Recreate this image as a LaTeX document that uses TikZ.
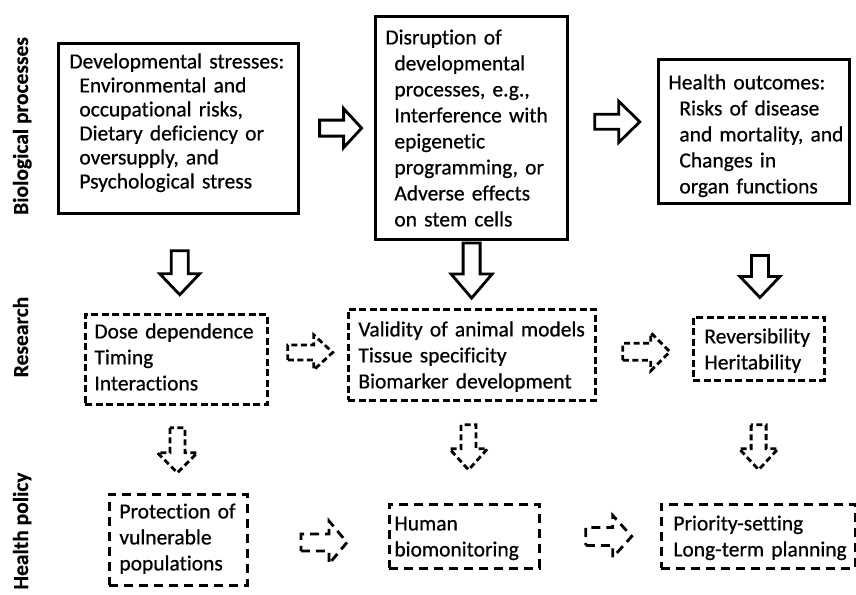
\documentclass[tikz,border=0pt]{standalone}
\usepackage{fontspec}
\setmainfont{Carlito}[Ligatures=NoCommon, FakeBold=0.6, BoldFont=Carlito Bold, BoldFeatures={FakeBold=0.3}]
\usetikzlibrary{calc}
\newcommand\indA{\hspace*{10pt}}
\newcommand\indB{\hspace*{9pt}}
\newcommand\indC{\hspace*{11pt}}
\tikzset{
  basebox/.style={draw, rectangle, line width=2.8pt, line join=miter,
    anchor=north west, inner ysep=0pt, align=left},
  solidbox/.style={basebox},
  resbox/.style={basebox, dash pattern=on 7pt off 3.5pt},
  polbox/.style={basebox, dash pattern=on 9pt off 6pt},
  sidelabel/.style={rotate=90, anchor=base, inner sep=0pt,
    font=\bfseries\fontsize{21.5}{26}\selectfont},
  solidarrow/.style={},
  resarrow/.style={dash pattern=on 6pt off 3.5pt},
  polarrow/.style={dash pattern=on 9pt off 6pt},
  pics/barrow/.style n args={4}{code={
    \draw[line width=2.8pt, line join=miter, pic actions]
      ({-#1/2},{#2/2}) -- ({#1/2-#4},{#2/2}) -- ({#1/2-#4},{#3/2})
      -- ({#1/2},0) -- ({#1/2-#4},{-#3/2}) -- ({#1/2-#4},{-#2/2})
      -- ({-#1/2},{-#2/2}) -- cycle;
  }}
}
\begin{document}
\begin{tikzpicture}[x=1pt, y=-1pt]
\useasboundingbox (0,0) rectangle (856,594);

% side labels
\node[sidelabel] (s1) at (28,126) {Biological processes};
\node[sidelabel] (s2) at (28,337) {Research};
\node[sidelabel] (s3) at (28,531) {Health policy};

% row 1: biological processes
\node[solidbox, font=\fontsize{21.5}{24}\selectfont, inner xsep=11pt, text width=218pt,
      text height=25pt, text depth=145pt] (b1) at (57,42)
  {\begin{tabular}[t]{@{}l@{}}Developmental stresses:\\ \indA Environmental and\\ \indA occupational risks,\\ \indA Dietary deficiency or\\ \indA oversupply, and\\ \indA Psychological stress\end{tabular}};
\node[solidbox, font=\fontsize{21.5}{26}\selectfont, inner xsep=10pt, text width=172pt,
      text height=28pt, text depth=195pt] (b2) at (374,15)
  {\begin{tabular}[t]{@{}l@{}}Disruption of\\ \indB developmental\\ \indB processes, e.g.,\\ \indB Interference with\\ \indB epigenetic\\ \indB programming, or\\ \indB Adverse effects\\ \indB on stem cells\end{tabular}};
\node[solidbox, font=\fontsize{21.5}{26}\selectfont, inner xsep=10pt, text width=171pt,
      text height=30pt, text depth=114pt] (b3) at (657,58)
  {\begin{tabular}[t]{@{}l@{}}Health outcomes:\\ \indC Risks of disease\\ \indC and mortality, and\\ \indC Changes in\\ \indC organ functions\end{tabular}};

% row 2: research
\node[resbox, font=\fontsize{21.5}{26}\selectfont, inner xsep=9pt, text width=164pt,
      text height=24pt, text depth=66pt] (b4) at (84,313)
  {\begin{tabular}[t]{@{}l@{}}Dose dependence\\ Timing\\ Interactions\end{tabular}};
\node[resbox, font=\fontsize{21.5}{26}\selectfont, inner xsep=10pt, text width=227pt,
      text height=27pt, text depth=64pt] (b5) at (347,308)
  {\begin{tabular}[t]{@{}l@{}}Validity of animal models\\ Tissue specificity\\ Biomarker development\end{tabular}};
\node[resbox, font=\fontsize{21.5}{26}\selectfont, inner xsep=11pt, text width=109pt,
      text height=26pt, text depth=37pt] (b6) at (692,316)
  {\begin{tabular}[t]{@{}l@{}}Reversibility\\ Heritability\end{tabular}};

% row 3: health policy
\node[polbox, font=\fontsize{21.5}{26}\selectfont, inner xsep=10pt, text width=118pt,
      text height=24pt, text depth=67pt] (b7) at (108,493)
  {\begin{tabular}[t]{@{}l@{}}Protection of\\ vulnerable\\ populations\end{tabular}};
\node[polbox, font=\fontsize{21.5}{26}\selectfont, inner xsep=5pt, text width=140pt,
      text height=26pt, text depth=38pt] (b8) at (388,503)
  {\begin{tabular}[t]{@{}l@{}}Human\\ biomonitoring\end{tabular}};
\node[polbox, font=\fontsize{21.5}{26}\selectfont, inner xsep=12pt, text width=170pt,
      text height=26pt, text depth=38pt] (b9) at (660,503)
  {\begin{tabular}[t]{@{}l@{}}Priority-setting\\ Long-term planning\end{tabular}};

% solid block arrows
\pic[solidarrow] at ($(b1.east)!0.55!(b2.west)$) {barrow={42}{16}{39}{18}};
\pic[solidarrow, yshift=8pt] at ($(b2.east)!0.55!(b3.west)$) {barrow={45}{15}{41}{21}};
\pic[solidarrow, rotate=-90] at ($(b1.south)!0.59!(b4.north)+(2.5,0)$) {barrow={44}{17}{40}{21}};
\pic[solidarrow, rotate=-90] at ($(b2.south)!0.443!(b5.north)$) {barrow={55}{17}{41}{24}};
\pic[solidarrow, rotate=-90] at ($(b3.south)!0.645!(b6.north)+(2.8,0)$) {barrow={42}{17}{40}{21}};

% dashed block arrows, research row
\pic[resarrow] at ($(b4.east)!0.53!(b5.west)+(0,-4.6)$) {barrow={45}{15}{35}{19}};
\pic[resarrow] at ($(b5.east)!0.52!(b6.west)$) {barrow={47}{17}{38}{19}};
\pic[resarrow, rotate=-90] at ($(b4.south)!0.51!(b7.north)$) {barrow={45}{15}{40}{20}};
\pic[resarrow, rotate=-90] at ($(b5.south)!0.45!(b8.north)$) {barrow={45}{15}{38}{21}};
\pic[resarrow, rotate=-90] at ($(b6.south)!0.54!(b9.north)$) {barrow={45}{15}{39}{21}};

% dashed block arrows, policy row
\pic[polarrow] at ($(b7.east)!0.54!(b8.west)+(0,4.4)$) {barrow={46}{17}{43}{18}};
\pic[polarrow] at ($(b8.east)!0.57!(b9.west)$) {barrow={46}{18}{42}{19}};
\end{tikzpicture}
\end{document}
